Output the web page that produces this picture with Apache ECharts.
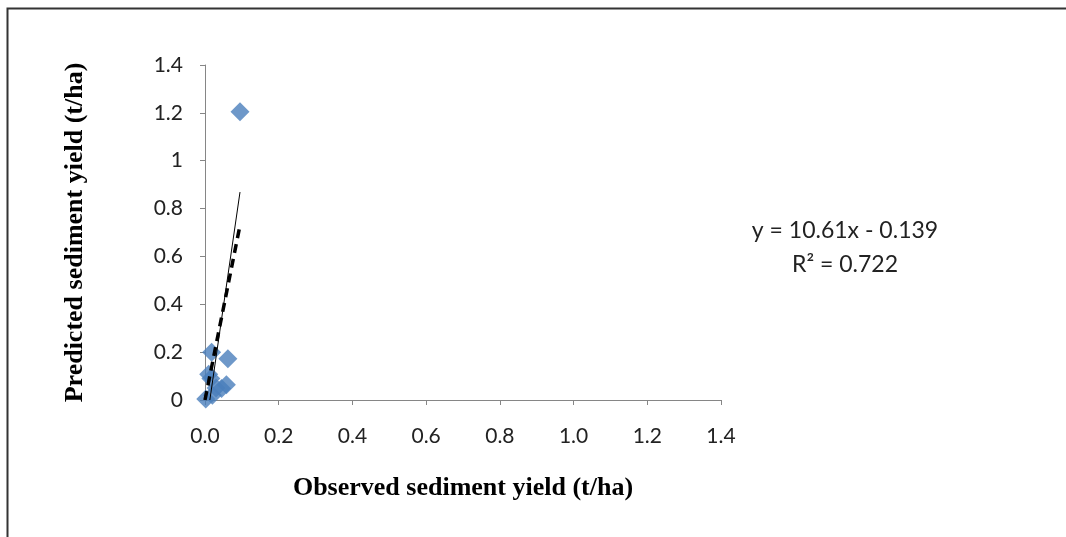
<!DOCTYPE html>
<html lang="en">

<head>
  <meta charset="utf-8">
  <script src="https://cdn.jsdelivr.net/npm/echarts@6.0.0/dist/echarts.min.js"></script>
  <style>
    html, body { margin: 0; padding: 0; background: #fff; }
  </style>
</head>

<body>
  <div id="sedimentChart" style="width: 1066px;height:537px;"></div>

  <script type="text/javascript">

    // observed vs predicted sediment yield (t/ha)
    var observed = [0.095, 0.018, 0.062, 0.010, 0.016, 0.030, 0.045, 0.058, 0.020, 0.002];
    var predicted = [1.205, 0.200, 0.172, 0.108, 0.090, 0.050, 0.048, 0.064, 0.020, 0.004];

    // linear trendline (y = 10.61x - 0.139), clipped at y = 0
    var trendX = [0.0131, 0.095];
    var trendY = [0, 0.869];

    // dashed line
    var dashX = [0, 0.095];
    var dashY = [0, 0.73];

    var equationLines = ['y = 10.61x - 0.139', 'R² = 0.722'];

    function pairs(xs, ys) {
        return xs.map(function (x, i) { return [x, ys[i]]; });
    }

    function createSedimentChart() {
        const chart = echarts.init(document.getElementById('sedimentChart'));
        const axisGray = '#868686';
        const nameFont = { fontFamily: 'Liberation Serif', fontWeight: 'bold', fontSize: 26, color: '#000' };

        let option = {
            animation: false,
            grid: { left: 205, right: 345, top: 65, bottom: 137 },
            xAxis: {
                type: 'value',
                min: 0, max: 1.4, interval: 0.2,
                name: 'Observed sediment yield (t/ha)',
                nameLocation: 'middle',
                nameGap: 75,
                nameTextStyle: nameFont,
                axisLine: { lineStyle: { color: axisGray } },
                axisTick: { show: true, length: 5, lineStyle: { color: axisGray } },
                splitLine: { show: false },
                axisLabel: {
                    margin: 26, fontFamily: 'Lato', fontSize: 21, color: '#222',
                    formatter: function (v) { return v.toFixed(1); }
                }
            },
            yAxis: {
                type: 'value',
                min: 0, max: 1.4, interval: 0.2,
                name: 'Predicted sediment yield (t/ha)',
                nameLocation: 'middle',
                nameGap: 117,
                nameRotate: 90,
                nameTextStyle: nameFont,
                axisLine: { show: true, lineStyle: { color: axisGray } },
                axisTick: { show: true, length: 5, lineStyle: { color: axisGray } },
                splitLine: { show: false },
                axisLabel: {
                    margin: 22, fontFamily: 'Lato', fontSize: 21, color: '#222',
                    formatter: function (v) { return String(Math.round(v * 10) / 10); }
                }
            },
            series: [
                {
                    name: 'data',
                    type: 'scatter',
                    symbol: 'diamond',
                    symbolSize: 19,
                    itemStyle: { color: '#4A7EBB' },
                    data: pairs(observed, predicted),
                    z: 2
                },
                {
                    name: 'trend',
                    type: 'line',
                    symbol: 'none',
                    lineStyle: { color: '#000', width: 1 },
                    data: pairs(trendX, trendY),
                    z: 3
                },
                {
                    name: 'dashed',
                    type: 'line',
                    symbol: 'none',
                    lineStyle: { color: '#000', width: 3.5, type: [9, 6] },
                    data: pairs(dashX, dashY),
                    z: 4
                }
            ],
            graphic: [
                {
                    type: 'rect',
                    left: 5, top: 6,
                    shape: { width: 1080, height: 560 },
                    style: { fill: 'none', stroke: '#333', lineWidth: 2 },
                    silent: true
                },
                {
                    type: 'text',
                    x: 845, y: 231,
                    style: {
                        text: equationLines[0],
                        fontFamily: 'Lato', fontSize: 23,
                        fill: '#222', align: 'center', verticalAlign: 'middle'
                    }
                },
                {
                    type: 'text',
                    x: 845, y: 265,
                    style: {
                        text: equationLines[1],
                        fontFamily: 'Lato', fontSize: 23,
                        fill: '#222', align: 'center', verticalAlign: 'middle'
                    }
                }
            ]
        };

        chart.setOption(option);
    }
    createSedimentChart();
  </script>
</body>

</html>
